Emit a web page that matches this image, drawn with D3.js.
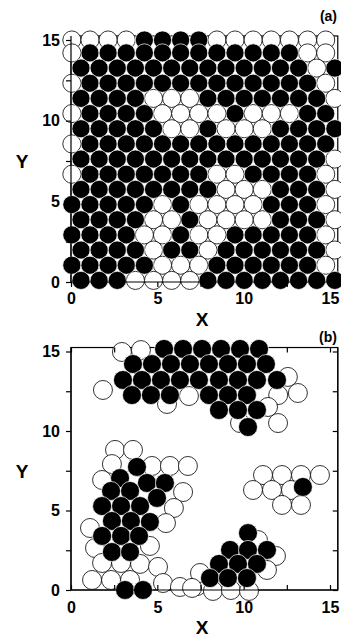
<!DOCTYPE html>
<html>
<head>
<meta charset="utf-8">
<script src="https://cdn.jsdelivr.net/npm/d3@7"></script>
<style>
  html, body { margin: 0; padding: 0; background: #fff; }
  svg { display: block; }
  text { font-family: "Liberation Sans", Arial, Helvetica, sans-serif; font-weight: bold; fill: #000; }
</style>
</head>
<body>
<svg id="chart" width="341" height="640"></svg>
<script>
// ---- Panel (a): close-packed layer, rows alternate between two column sets ----
const colsA = [0.58, 1.63, 2.68, 3.73, 4.78, 5.83, 6.88, 7.93, 8.98, 10.03, 11.08, 12.13, 13.18, 14.23, 15.28];
const colsB = [0.05, 1.1, 2.15, 3.2, 4.25, 5.3, 6.35, 7.4, 8.45, 9.5, 10.55, 11.6, 12.65, 13.7, 14.75];
// row heights, top to bottom
const rowsY = [15.0, 14.2, 13.26, 12.32, 11.38, 10.44, 9.5, 8.56, 7.62, 6.68, 5.74, 4.8, 3.86, 2.92, 1.98, 1.04, 0.1];
const rowsType = ["B", "B", "A", "B", "A", "B", "A", "B", "A", "B", "A", "B", "A", "B", "A", "B", "A"];
// 1 = filled (black) site, 0 = open (white) site
const rowsState = [
  "000011110000000",
  "011111111111100",
  "111111111111101",
  "011111111111110",
  "111100011111110",
  "011110000100011",
  "111110010001111",
  "011111111111111",
  "111111111111110",
  "011111110011110",
  "111111110001110",
  "111110100001110",
  "111100100001110",
  "111100100111110",
  "111101101111110",
  "111110001111110",
  "111000011111111"
];

// ---- Panel (b): isolated clusters ----
const bBlack = [
  [5.39, 15.16], [6.49, 15.16], [7.59, 15.16], [8.69, 15.16], [9.79, 15.16], [10.89, 15.16],
  [3.59, 14.21], [4.69, 14.21], [5.79, 14.21], [6.89, 14.21], [7.99, 14.21], [9.09, 14.21], [10.19, 14.21], [11.29, 14.21],
  [3.01, 13.21], [4.11, 13.21], [5.21, 13.21], [6.31, 13.21], [7.41, 13.21], [8.57, 13.21], [9.67, 13.21], [10.77, 13.21], [11.93, 13.21],
  [3.53, 12.26], [4.63, 12.26], [5.73, 12.26], [7.99, 12.26], [9.09, 12.26], [10.19, 12.26],
  [8.57, 11.32], [9.67, 11.32], [10.77, 11.32],
  [10.25, 10.25],
  [3.82, 7.74], [2.84, 7.04], [4.4, 6.73], [5.44, 6.73], [2.32, 6.23], [3.42, 6.23], [4.98, 5.79],
  [1.8, 5.28], [2.9, 5.28], [4.0, 5.28], [2.37, 4.34], [3.47, 4.34], [4.57, 4.28],
  [1.8, 3.4], [2.9, 3.4], [3.94, 3.4], [2.37, 2.39], [3.42, 2.39],
  [3.13, 0.0], [4.17, 0.0],
  [13.43, 6.48],
  [10.25, 3.58], [9.21, 2.52], [10.25, 2.52], [11.35, 2.52],
  [8.57, 1.64], [9.67, 1.64], [10.77, 1.64], [8.05, 0.75], [9.09, 0.75], [10.19, 0.75]
];
const bWhite = [
  [2.95, 14.97], [4.05, 15.09], [1.85, 12.58], [6.83, 12.2], [5.56, 11.7],
  [12.56, 13.4], [13.14, 12.39], [12.0, 12.26], [11.41, 11.51], [11.99, 10.5], [9.79, 10.5],
  [2.55, 8.81], [3.59, 8.81], [2.37, 7.92], [1.8, 6.92], [4.69, 7.8], [5.73, 7.8], [6.77, 7.8],
  [6.49, 6.16], [5.96, 5.16], [1.1, 3.9], [5.5, 4.21], [1.39, 2.64], [4.57, 2.77],
  [1.8, 1.7], [2.9, 1.7], [4.0, 1.64], [5.04, 1.45],
  [1.22, 0.63], [2.32, 0.63], [3.42, 0.63], [5.33, 0.44], [6.31, 0.19], [7.3, 0.25],
  [11.12, 7.23], [12.22, 7.23], [13.32, 7.23], [14.42, 7.23],
  [10.54, 6.29], [11.64, 6.29], [12.74, 6.29], [12.22, 5.35], [13.32, 5.35],
  [10.83, 3.14], [11.87, 2.14], [11.35, 1.26], [7.47, 1.07], [7.01, 0.13],
  [8.22, -0.06], [9.26, 0.0], [10.31, -0.06]
];

const majorTicks = [0, 5, 10, 15];
const allTicks = [0, 2.5, 5, 7.5, 10, 12.5, 15];

const svg = d3.select("#chart");
svg.append("rect").attr("width", 341).attr("height", 640).attr("fill", "#fff");

function drawPanel(opts) {
  const x = d3.scaleLinear().domain([0, 15]).range([71, 330]);
  const y = d3.scaleLinear().domain([0, 15]).range(opts.yRange);
  const g = svg.append("g");
  const r = x(opts.radius) - x(0);
  const x0 = x(0), x1 = x(15.45), yTop = y(15.25), yBot = y(0);

  // frame sits under the particles; left and bottom axis lines are redrawn on top
  g.append("rect")
    .attr("x", x0).attr("y", yTop).attr("width", x1 - x0).attr("height", yBot - yTop)
    .attr("fill", "none").attr("stroke", "#000").attr("stroke-width", 1.2);

  // open sites underneath, filled sites on top
  g.append("g").selectAll("circle")
    .data(opts.sites.filter(d => !d.black))
    .join("circle")
    .attr("cx", d => x(d.x)).attr("cy", d => y(d.y)).attr("r", r)
    .attr("fill", "#fff").attr("stroke", "#000").attr("stroke-width", 0.8);
  g.append("g").selectAll("circle")
    .data(opts.sites.filter(d => d.black))
    .join("circle")
    .attr("cx", d => x(d.x)).attr("cy", d => y(d.y)).attr("r", r)
    .attr("fill", "#000").attr("stroke", "#fff").attr("stroke-width", 0.7);

  g.append("line").attr("x1", x0).attr("x2", x0).attr("y1", yTop).attr("y2", yBot)
    .attr("stroke", "#000").attr("stroke-width", 1.2);
  g.append("line").attr("x1", x0).attr("x2", x1).attr("y1", yBot).attr("y2", yBot)
    .attr("stroke", "#000").attr("stroke-width", 1.2);
  if (opts.inward) {
    g.append("line").attr("x1", x1).attr("x2", x1).attr("y1", yTop).attr("y2", yBot)
      .attr("stroke", "#000").attr("stroke-width", 1.2);
  }

  const fmt = d => (majorTicks.includes(d) ? d : "");
  const left = d3.axisLeft(y).tickValues(allTicks).tickSize(5).tickPadding(6).tickFormat(fmt);
  const bottom = d3.axisBottom(x).tickValues(allTicks).tickFormat(fmt);
  if (opts.inward) bottom.tickSizeInner(-5).tickSizeOuter(0).tickPadding(12);
  else bottom.tickSize(5).tickPadding(6);

  const gl = g.append("g").attr("transform", `translate(${x0},0)`).call(left);
  const gb = g.append("g").attr("transform", `translate(0,${yBot})`).call(bottom);
  [gl, gb].forEach(a => {
    a.select(".domain").remove();
    a.selectAll("line").attr("stroke", "#000").attr("stroke-width", 1.2);
    a.selectAll("text").attr("font-size", 16).attr("font-weight", "bold")
      .attr("font-family", "Liberation Sans, Arial, sans-serif").attr("fill", "#000");
  });
  if (opts.inward) {
    const right = d3.axisLeft(y).tickValues(allTicks).tickSize(5).tickFormat("");
    const gr = g.append("g").attr("transform", `translate(${x1},0)`).call(right);
    gr.select(".domain").remove();
    gr.selectAll("line").attr("stroke", "#000").attr("stroke-width", 1.2);
    const top = d3.axisBottom(x).tickValues(allTicks).tickSize(5).tickFormat("");
    const gt = g.append("g").attr("transform", `translate(0,${yTop})`).call(top);
    gt.select(".domain").remove();
    gt.selectAll("line").attr("stroke", "#000").attr("stroke-width", 1.2);
  }

  // axis titles and panel tag
  g.append("text").attr("x", 202).attr("y", opts.xTitleY).attr("text-anchor", "middle")
    .attr("font-size", 19).text("X");
  g.append("text").attr("x", 22).attr("y", (y(0) + y(15)) / 2 + 7).attr("text-anchor", "middle")
    .attr("font-size", 19).text("Y");
  g.append("text").attr("x", 337).attr("y", opts.tagY).attr("text-anchor", "end")
    .attr("font-size", 14).text(opts.tag);
}

// build panel (a) sites from the lattice rows
const sitesA = [];
rowsY.forEach((yv, i) => {
  const cols = rowsType[i] === "A" ? colsA : colsB;
  rowsState[i].split("").forEach((s, j) => sitesA.push({ x: cols[j], y: yv, black: s === "1" }));
});
const sitesB = bWhite.map(d => ({ x: d[0], y: d[1], black: false }))
  .concat(bBlack.map(d => ({ x: d[0], y: d[1], black: true })));

drawPanel({ sites: sitesA, yRange: [282, 40], radius: 0.525, inward: false, xTitleY: 326, tag: "(a)", tagY: 21 });
drawPanel({ sites: sitesB, yRange: [590, 351.5], radius: 0.55, inward: true, xTitleY: 634, tag: "(b)", tagY: 342 });
</script>
</body>
</html>
